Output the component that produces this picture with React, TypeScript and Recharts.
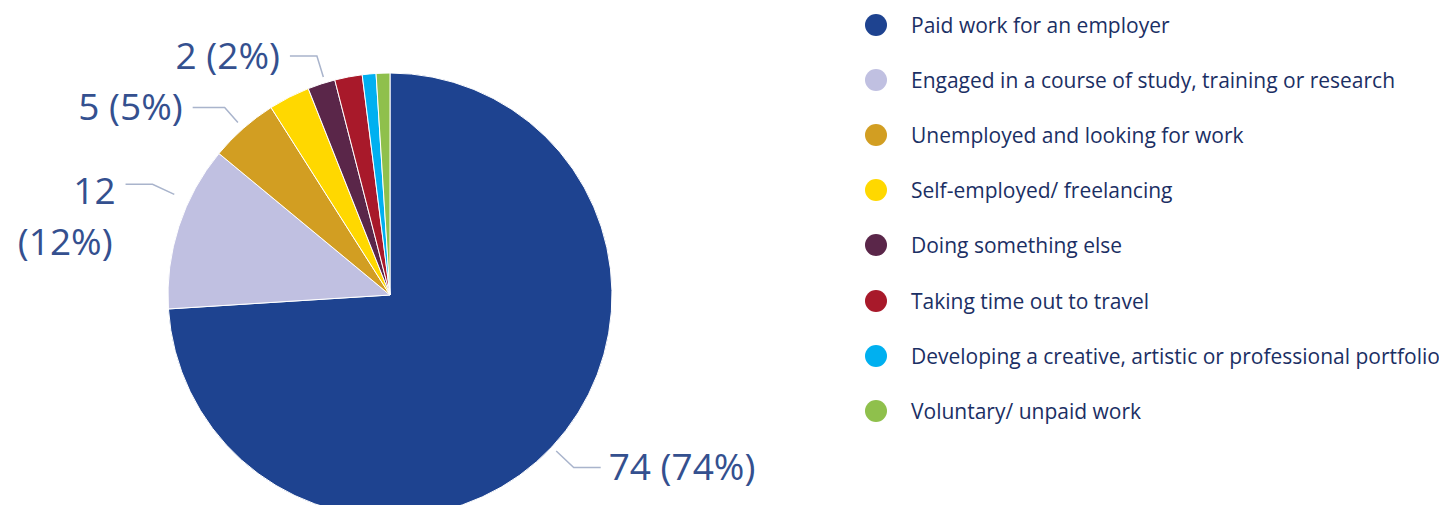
import React from "react";
import { PieChart, Pie, Cell, Legend } from "recharts";

const categories = [
  "Paid work for an employer",
  "Engaged in a course of study, training or research",
  "Unemployed and looking for work",
  "Self-employed/ freelancing",
  "Doing something else",
  "Taking time out to travel",
  "Developing a creative, artistic or professional portfolio",
  "Voluntary/ unpaid work",
];
const counts = [74, 12, 5, 3, 2, 2, 1, 1];
const percents = [74, 12, 5, 3, 2, 2, 1, 1];
const colors = ["#1E4390", "#C0C0E1", "#D29E22", "#FFD800", "#5A2649", "#A8192A", "#00B0F0", "#8FC04C"];
// which slices carry a data label
const labelled = [true, true, true, false, true, false, false, false];

const data = categories.map((name, i) => ({ name, value: counts[i], pct: percents[i] }));

const FONT = "'Open Sans', 'Noto Sans', sans-serif";
const LABEL_COLOR = "#34508F";
const LINE_COLOR = "#A9B4CC";
const RAD = Math.PI / 180;
const LABEL_SIZE = 37;

// per-label layout: angle tweak, gap from edge, radial leg, horizontal leg, two-line
const labelLayout: Record<number, { da: number; gap: number; leg: number; h: number; split: boolean }> = {
  0: { da: 0, gap: 6, leg: 24, h: 27, split: false },
  1: { da: -7, gap: 16, leg: 24, h: 27, split: true },
  2: { da: 0, gap: 8, leg: 20, h: 32, split: false },
  4: { da: -1, gap: 6, leg: 22, h: 27, split: false },
};

const renderLabel = (props: any) => {
  const { cx, cy, midAngle, outerRadius, index } = props;
  if (!labelled[index]) return null;
  const L = labelLayout[index];
  const a = (midAngle + L.da) * RAD;
  const r0 = outerRadius + L.gap;
  const r1 = r0 + L.leg;
  const x0 = cx + r0 * Math.cos(a);
  const y0 = cy - r0 * Math.sin(a);
  const x1 = cx + r1 * Math.cos(a);
  const y1 = cy - r1 * Math.sin(a);
  const right = Math.cos(a) >= 0;
  const x2 = right ? x1 + L.h : x1 - L.h;
  const tx = right ? x2 + 8 : x2 - 10;
  const anchor = right ? "start" : "end";
  const d = data[index];
  return (
    <g key={`lbl-${index}`}>
      <polyline points={`${x0},${y0} ${x1},${y1} ${x2},${y1}`} fill="none" stroke={LINE_COLOR} strokeWidth={1.5} />
      {L.split ? (
        <text x={tx} y={y1} textAnchor={anchor} fill={LABEL_COLOR} fontFamily={FONT} fontSize={LABEL_SIZE}>
          <tspan x={tx} dy={20}>{d.value}</tspan>
          <tspan x={tx - 3} dy={51}>({d.pct}%)</tspan>
        </text>
      ) : (
        <text x={tx} y={y1 + 3} textAnchor={anchor} dominantBaseline="middle" fill={LABEL_COLOR} fontFamily={FONT} fontSize={LABEL_SIZE}>
          {`${d.value} (${d.pct}%)`}
        </text>
      )}
    </g>
  );
};

const renderLegend = () => (
  <div style={{ fontFamily: FONT }}>
    {data.map((d, i) => (
      <div key={i} style={{ display: "flex", alignItems: "center", height: 55.2 }}>
        <svg width={24} height={24} style={{ marginRight: 23, flexShrink: 0 }}>
          <circle cx={12} cy={12} r={11} fill={colors[i]} />
        </svg>
        <span style={{ fontSize: 21, color: "#1B2F64", whiteSpace: "nowrap" }}>{d.name}</span>
      </div>
    ))}
  </div>
);

export default function App() {
  return (
    <div style={{ margin: -8, width: 1447, height: 513, overflow: "hidden", background: "#fff", position: "relative" }}>
      <PieChart width={1447} height={513} margin={{ top: 0, right: 0, bottom: 0, left: 0 }}>
        <Pie
          data={data}
          dataKey="value"
          nameKey="name"
          cx={390}
          cy={295}
          outerRadius={222}
          startAngle={90}
          endAngle={-270}
          stroke="#fff"
          strokeWidth={1}
          label={renderLabel}
          labelLine={false}
          isAnimationActive={false}
        >
          {data.map((d, i) => (
            <Cell key={i} fill={colors[i]} />
          ))}
        </Pie>
        <Legend
          layout="vertical"
          verticalAlign="top"
          align="right"
          content={renderLegend}
          wrapperStyle={{ left: 864, top: -3, right: "auto", width: 583 }}
        />
      </PieChart>
    </div>
  );
}
